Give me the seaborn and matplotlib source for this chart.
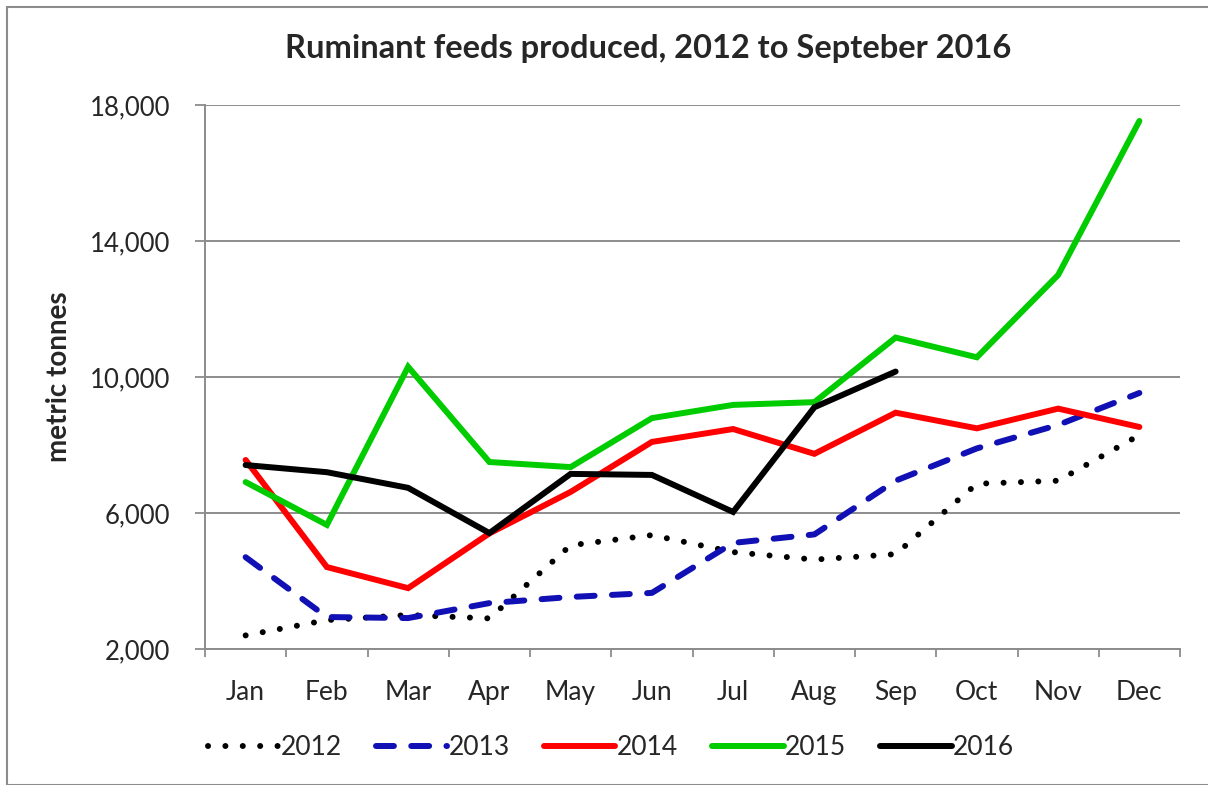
import matplotlib
matplotlib.use("Agg")
import matplotlib.pyplot as plt
import seaborn as sns
import pandas as pd
import numpy as np
from matplotlib.patches import Rectangle

months = ["Jan", "Feb", "Mar", "Apr", "May", "Jun", "Jul", "Aug", "Sep", "Oct", "Nov", "Dec"]
v2012 = [2400, 2850, 3000, 2900, 5050, 5350, 4850, 4630, 4790, 6860, 6950, 8290]
v2013 = [4700, 2940, 2910, 3350, 3530, 3650, 5120, 5370, 6950, 7900, 8590, 9530]
v2014 = [7560, 4410, 3790, 5400, 6620, 8090, 8470, 7740, 8950, 8490, 9070, 8530]
v2015 = [6910, 5650, 10300, 7500, 7350, 8790, 9180, 9260, 11160, 10580, 13000, 17530]
v2016 = [7410, 7200, 6740, 5410, 7150, 7120, 6030, 9110, 10160]
years = ["2012", "2013", "2014", "2015", "2016"]
yticks = [2000, 6000, 10000, 14000, 18000]

series = dict(zip(years, [v2012, v2013, v2014, v2015, v2016]))
rows = []
for y, vals in series.items():
    for i, v in enumerate(vals):
        rows.append({"year": y, "month": i, "value": v})
df = pd.DataFrame(rows)

sns.set_theme(style="white")
plt.rcParams["font.family"] = ["Lato", "DejaVu Sans"]

fig = plt.figure(figsize=(12.08, 7.85), dpi=100)
ax = fig.add_axes([205/1208, 1-649/785, (1180-205)/1208, (649-105)/785])

colors = {"2012": "#000000", "2013": "#1010B4", "2014": "#FF0000", "2015": "#00CC00", "2016": "#000000"}
styles = {"2012": (0, (0.01, 2.9)), "2013": (0, (3.0, 2.9)), "2014": "-", "2015": "-", "2016": "-"}

for y in years:
    sub = df[df["year"] == y]
    sns.lineplot(data=sub, x="month", y="value", ax=ax, color=colors[y], lw=4.3,
                 label=y, zorder=3)
    line = ax.get_lines()[-1]
    line.set_linestyle(styles[y])
    line.set_dash_capstyle("round")
    line.set_solid_capstyle("round")
    line.set_solid_joinstyle("miter")

ax.set_xlim(-0.5, 11.5)
ax.set_ylim(2000, 18000)
ax.set_yticks(yticks)
ax.set_yticklabels([f"{t:,}" for t in yticks], fontsize=18.5)
ax.set_xticks(range(12))
ax.set_xticklabels(months, fontsize=19)
ax.tick_params(axis="x", length=0, pad=22)
ax.tick_params(axis="y", length=7.2, width=1.3, color="#8c8c8c", left=True, pad=18)
# boundary tick marks for categories
ax.set_xticks(np.arange(-0.5, 12.0, 1.0), minor=True)
ax.tick_params(axis="x", which="minor", length=6, width=1.3, color="#8c8c8c", bottom=True)

ax.grid(axis="y", color="#8c8c8c", lw=1.4)
ax.grid(axis="x", visible=False)
for s in ["top", "right"]:
    ax.spines[s].set_visible(False)
for s in ["left", "bottom"]:
    ax.spines[s].set_color("#8c8c8c")
    ax.spines[s].set_linewidth(1.4)

ax.set_xlabel("")
ax.set_ylabel("metric tonnes", fontsize=20, fontweight="bold")
ax.yaxis.set_label_coords((72 - 205) / 975, 0.5)
ax.set_title("Ruminant feeds produced, 2012 to Septeber 2016", fontsize=23.5,
             fontweight="bold", x=(648 - 205) / 975, pad=34)

leg = ax.legend(loc="upper center", bbox_to_anchor=((611 - 205) / 975, -0.115), ncol=5,
                frameon=False, fontsize=19, handlelength=2.7, handletextpad=0.05,
                columnspacing=1.3)
for h in leg.get_lines():
    h.set_dash_capstyle("round")
    h.set_solid_capstyle("round")

fig.patches.append(Rectangle((7/1208, 0), 1.0, 1-7/785, transform=fig.transFigure,
                             fill=False, edgecolor="#8c8c8c", lw=1.5))

fig.savefig("out.png", dpi=100)
